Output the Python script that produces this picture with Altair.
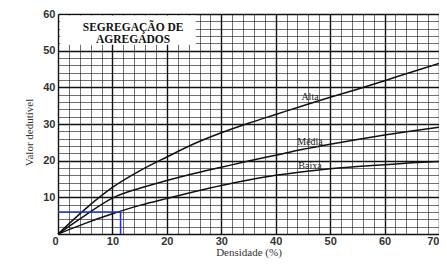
import altair as alt
import pandas as pd

density = [0, 5, 10, 15, 20, 25, 30, 35, 40, 45, 50, 55, 60, 65, 70]
alta = [0, 6.8, 12.7, 17.2, 21.0, 24.6, 27.6, 30.2, 32.6, 35.0, 37.3, 39.5, 41.8, 44.2, 46.5]
media = [0, 5.1, 9.8, 12.5, 14.6, 16.5, 18.2, 19.9, 21.5, 23.1, 24.5, 25.8, 27.0, 28.1, 29.1]
baixa = [0, 2.9, 5.5, 7.8, 9.7, 11.5, 13.2, 14.7, 16.0, 17.0, 17.8, 18.4, 18.9, 19.4, 19.8]

series_names = ["Alta", "Média", "Baixa"]
label_x = [46.3, 46.3, 46.3]
label_y = [37.4, 25.1, 18.5]

# reading example (blue lines)
read_x = [0, 11.5, 11.5]
read_y = [6, 6, 0]

title_lines = ["SEGREGAÇÃO DE", "AGREGADOS"]

rows = []
for name, vals in zip(series_names, [alta, media, baixa]):
    for d, v in zip(density, vals):
        rows.append({"serie": name, "x": d, "y": v})
df = pd.DataFrame(rows)

xs = alt.Scale(domain=[0, 70], nice=False, zero=True)
ys = alt.Scale(domain=[0, 60], nice=False, zero=True)

grid_w = {"condition": {"test": "datum.value % 10 === 0", "value": 1.4}, "value": 0.6}

xaxis = alt.Axis(
    values=list(range(0, 71, 2)),
    labelExpr="datum.value % 10 === 0 ? datum.label : ''",
    labelOverlap=False,
    labelAlign={"condition": {"test": "datum.value === 0 || datum.value === 70", "value": "right"}, "value": "center"},
    title="Densidade (%)",
    titleFont="Liberation Serif", titleFontWeight="normal", titleFontSize=11, titleColor="#333",
    titlePadding=0,
    labelFont="Liberation Sans", labelFontWeight="bold", labelFontSize=11, labelColor="#333",
    labelPadding=1, ticks=False, domain=False,
    grid=True, gridColor="#111", gridWidth=grid_w,
    labelFlush=False,
)
yaxis = alt.Axis(
    values=list(range(0, 61, 2)),
    labelExpr="datum.value % 10 === 0 && datum.value > 0 ? datum.label : ''",
    labelOverlap=False,
    title="Valor dedutível",
    titleFont="Liberation Serif", titleFontWeight="normal", titleFontSize=11, titleColor="#333",
    titlePadding=8, titleY=118, titleAlign="center",
    labelFont="Liberation Sans", labelFontWeight="bold", labelFontSize=11, labelColor="#333",
    labelPadding=3, ticks=False, domain=False,
    grid=True, gridColor="#111", gridWidth=grid_w,
    labelFlush=False,
)

X = lambda f: alt.X(f, scale=xs, axis=xaxis)
Y = lambda f: alt.Y(f, scale=ys, axis=yaxis)

box_df = pd.DataFrame({"x": [0.4], "x2": [25.3], "y": [51.6], "y2": [59.6]})
box = alt.Chart(box_df).mark_rect(color="white").encode(
    x=X("x:Q"), x2="x2", y=Y("y:Q"), y2="y2"
)

title_df = pd.DataFrame({"t": title_lines, "x": [13.8, 13.8], "y": [56.2, 53.0]})
title_txt = alt.Chart(title_df).mark_text(
    font="Liberation Serif", fontWeight="bold", fontSize=11.5, color="#111"
).encode(x=X("x:Q"), y=Y("y:Q"), text="t:N")

lines = alt.Chart(df).mark_line(color="#111", strokeWidth=1.5, interpolate="monotone").encode(
    x=X("x:Q"), y=Y("y:Q"), detail="serie:N"
)

lab_df = pd.DataFrame({"t": series_names, "x": label_x, "y": label_y})
labels = alt.Chart(lab_df).mark_text(
    font="Liberation Serif", fontSize=10, color="#222"
).encode(x=X("x:Q"), y=Y("y:Q"), text="t:N")

blue_df = pd.DataFrame({"x": read_x, "y": read_y, "o": [0, 1, 2]})
blue = alt.Chart(blue_df).mark_line(color="#2233dd", strokeWidth=1.6).encode(
    x=X("x:Q"), y=Y("y:Q"), order="o:Q"
)

chart = alt.layer(box, title_txt, lines, labels, blue).properties(
    width=381, height=220,
    autosize=alt.AutoSizeParams(type="none"),
    padding={"left": 50, "top": 6, "right": 0, "bottom": 25},
).configure_view(stroke="#222", strokeWidth=1.2).configure(background="white")

chart.save("out.html", embed_options={"renderer": "svg", "actions": False})
